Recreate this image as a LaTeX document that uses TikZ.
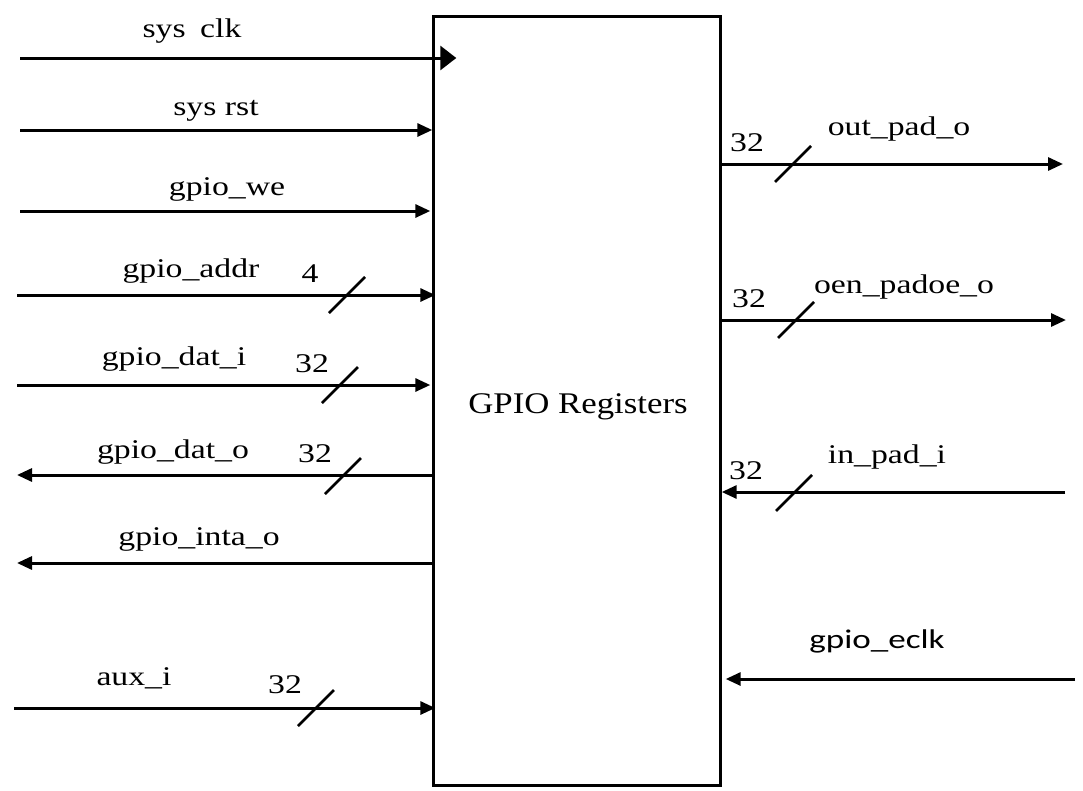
\documentclass[tikz,border=0pt]{standalone}
\usepackage{fontspec}
\setmainfont{Liberation Serif}
\newfontfamily\labfont[FakeStretch=1.25]{Liberation Serif}
\newfontfamily\regfont[FakeStretch=1.16]{Liberation Serif}
\newfontfamily\sanslabfont[FakeStretch=1.3]{Carlito}
\usetikzlibrary{arrows.meta,calc}
\tikzset{
  sig/.style={line width=3pt,-{Triangle[length=15pt,width=13pt]}},
  bigsig/.style={line width=3pt,-{Triangle[length=16pt,width=24pt]}},
  slashln/.style={line width=2.6pt},
  lab/.style={inner sep=0pt,anchor=base,font=\labfont\fontsize{27}{32}\selectfont},
  slab/.style={inner sep=0pt,anchor=base,font=\sanslabfont\fontsize{27}{32}\selectfont},
  regbox/.style={draw,line width=2.4pt,minimum width=287pt,minimum height=769pt,inner sep=0pt}
}
\newcommand\busmark[1]{\draw[slashln] (#1) ++(-18,18) -- ++(36,-36);}
\begin{document}
\begin{tikzpicture}[x=1pt,y=-1pt]
\useasboundingbox[fill=white] (0,0) rectangle (1083,790);
\node[regbox] (reg) at (577,401) {};
\node[inner sep=0pt,anchor=base,font=\regfont\fontsize{30}{36}\selectfont] (title) at (578,413) {GPIO Registers};
% free ends
\coordinate (clk) at (20,58);
\coordinate (rst) at (20,130);
\coordinate (we) at (20,211);
\coordinate (addr) at (17,295);
\coordinate (dati) at (17,385);
\coordinate (dato) at (17,475);
\coordinate (inta) at (17,563);
\coordinate (aux) at (14,708);
\coordinate (outp) at (1063,164);
\coordinate (oen) at (1066,320);
\coordinate (inp) at (1065,492);
\coordinate (eclk) at (1075,679);
% left connectors
\draw[bigsig] (clk) -- ([xshift=24pt]reg.west |- clk);
\draw[sig] (rst) -- (reg.west |- rst);
\draw[sig] (we) -- ([xshift=-2pt]reg.west |- we);
\draw[sig] (addr) -- ([xshift=3pt]reg.west |- addr);
\draw[sig] (dati) -- ([xshift=-2pt]reg.west |- dati);
\draw[sig] (reg.west |- dato) -- (dato);
\draw[sig] (reg.west |- inta) -- (inta);
\draw[sig] (aux) -- ([xshift=3pt]reg.west |- aux);
% right connectors
\draw[sig] (reg.east |- outp) -- (outp);
\draw[sig] (reg.east |- oen) -- (oen);
\draw[sig] (inp) -- (reg.east |- inp);
\draw[sig] (eclk) -- ([xshift=4pt]reg.east |- eclk);
% bus marks
\busmark{347,295}
\busmark{340,385}
\busmark{343,476}
\busmark{316,708}
\busmark{793,164}
\busmark{796,320}
\busmark{794,493}
% labels
\node[lab] (lclk) at (192,37) {sys\hspace{6pt} clk};
\node[lab] (lrst) at (216,115) {sys rst};
\node[lab] (lwe) at (227,195) {gpio\_we};
\node[lab] (laddr) at (191,277) {gpio\_addr};
\node[lab] (naddr) at (310,282) {4};
\node[lab] (ldati) at (174,365) {gpio\_dat\_i};
\node[lab] (ndati) at (312,372) {32};
\node[lab] (ldato) at (173,458) {gpio\_dat\_o};
\node[lab] (ndato) at (315,462) {32};
\node[lab] (linta) at (199,545) {gpio\_inta\_o};
\node[lab] (laux) at (134,685) {aux\_i};
\node[lab] (naux) at (285,693) {32};
\node[lab] (lout) at (899,135) {out\_pad\_o};
\node[lab] (nout) at (747,151) {32};
\node[lab] (loen) at (904,293) {oen\_padoe\_o};
\node[lab] (noen) at (749,307) {32};
\node[lab] (lin) at (887,463) {in\_pad\_i};
\node[lab] (nin) at (746,479) {32};
\node[slab] (leclk) at (877,648) {gpio\_eclk};
\end{tikzpicture}
\end{document}
